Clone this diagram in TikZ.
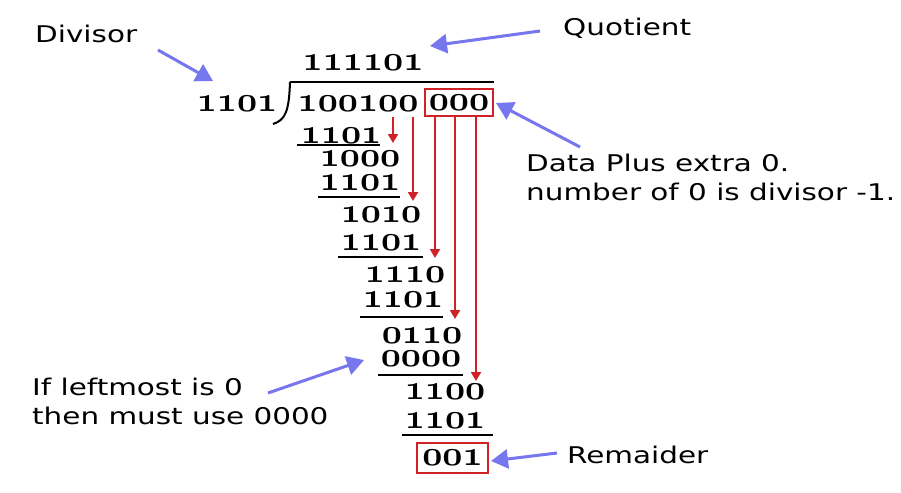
\RequirePackage{fix-cm}
\documentclass[tikz,border=0pt]{standalone}
\usepackage{fontspec}
\usetikzlibrary{arrows.meta}
\newfontfamily\notefont[FakeStretch=1.28]{DejaVu Sans}
\newcommand{\bitfont}{\fontsize{35}{35}\usefont{OML}{cmm}{b}{it}}
\definecolor{pointer}{RGB}{118,118,238}
\definecolor{carry}{RGB}{206,34,38}
\tikzstyle{num} = [inner sep=0pt, font=\bitfont]
\tikzstyle{note} = [inner sep=0pt, anchor=west, align=left, font=\notefont\fontsize{23}{29}\selectfont]
\tikzstyle{markbox} = [draw=carry, line width=1.6pt]
\tikzstyle{subline} = [line width=2pt]
\tikzstyle{pointer arrow} = [draw=pointer, line width=3pt, -{Triangle[length=17pt,width=19pt]}]
\tikzstyle{drop} = [draw=carry, line width=2pt, -{Triangle[length=9pt,width=10pt]}]

\begin{document}
\begin{tikzpicture}[x=1pt, y=-1pt]
        \useasboundingbox[fill=white] (0,0) rectangle (901,492);

        % quotient, divisor and padded dividend
        \node (quot) [num] at (363,63) {111101};
        \node (div) [num] at (237,104) {1101};
        \node (data) [num] at (358,104) {100100};
        \node (pad) [num, markbox, inner xsep=4pt, inner ysep=5.5pt] at (459,102.5) {000};
        \draw [subline] (290,82) -- (494,82);
        \draw [subline] (290,82) .. controls (289,110) and (286,120) .. (273,124);

        % subtraction steps
        \node (s1) [num] at (341,136) {1101};
        \node (r1) [num] at (360,159) {1000};
        \node (s2) [num] at (360,183) {1101};
        \node (r2) [num] at (381,215) {1010};
        \node (s3) [num] at (381,243) {1101};
        \node (r3) [num] at (405,275) {1110};
        \node (s4) [num] at (403,300) {1101};
        \node (r4) [num] at (422,336) {0110};
        \node (s5) [num] at (421,359) {0000};
        \node (r5) [num] at (445,392) {1100};
        \node (s6) [num] at (445,421) {1101};
        \node (rem) [num, markbox, inner xsep=5.5pt, inner ysep=7pt] at (452.5,458) {001};

        \draw [subline] (297,145) -- (380,145);
        \draw [subline] (318,197) -- (400,197);
        \draw [subline] (338,257) -- (423,257);
        \draw [subline] (360,317) -- (443,317);
        \draw [subline] (378,375) -- (463,375);
        \draw [subline] (402,435) -- (493,435);

        % bring-down arrows
        \coordinate (b1) at (393,117);  \coordinate (e1) at (393,143);
        \coordinate (b2) at (413,117);  \coordinate (e2) at (413,201);
        \coordinate (b3) at (435,117);  \coordinate (e3) at (435,258);
        \coordinate (b4) at (455,117);  \coordinate (e4) at (455,319);
        \coordinate (b5) at (476,117);  \coordinate (e5) at (476,381);
        \draw [drop] (b1) -- (e1);
        \draw [drop] (b2) -- (e2);
        \draw [drop] (b3) -- (e3);
        \draw [drop] (b4) -- (e4);
        \draw [drop] (b5) -- (e5);

        % notes
        \node (divnote) [note] at (35,34) {Divisor};
        \node (quotnote) [note] at (563,28) {Quotient};
        \node (padnote) [note] at (526,177) {Data Plus extra 0.\\number of 0 is divisor -1.};
        \node (zeronote) [note] at (32,401) {If leftmost is 0\\then must use 0000};
        \node (remnote) [note] at (567,455) {Remaider};

        \coordinate (p1) at (158,50);  \coordinate (q1) at (213,81);
        \coordinate (p2) at (540,31);  \coordinate (q2) at (430,46);
        \coordinate (p3) at (580,147); \coordinate (q3) at (496,103);
        \coordinate (p4) at (268,393); \coordinate (q4) at (364,360);
        \coordinate (p5) at (557,453); \coordinate (q5) at (491,461);
        \draw [pointer arrow] (p1) -- (q1);
        \draw [pointer arrow] (p2) -- (q2);
        \draw [pointer arrow] (p3) -- (q3);
        \draw [pointer arrow] (p4) -- (q4);
        \draw [pointer arrow] (p5) -- (q5);
\end{tikzpicture}
\end{document}
